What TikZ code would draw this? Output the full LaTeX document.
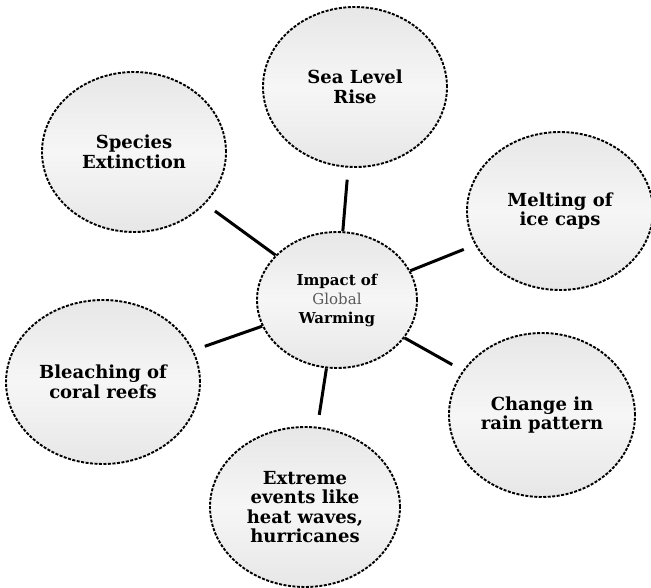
\documentclass[tikz,border=0pt]{standalone}
\usepackage{fontspec}
\setmainfont{DejaVu Serif}
\usetikzlibrary{shapes.geometric}
\begin{document}
\begin{tikzpicture}[x=1pt,y=-1pt,
  bubble/.style={ellipse, draw=black, line width=1.9pt, dash pattern=on 3pt off 1.5pt,
    top color=gray!19, bottom color=gray!19, middle color=gray!7,
    inner sep=0pt, align=center, font=\fontsize{18}{19.5}\selectfont\bfseries},
  conn/.style={line width=3pt, shorten >=12pt}]
\useasboundingbox (0,0) rectangle (651,588);
\node[bubble, minimum width=160pt, minimum height=136pt,
  font=\fontsize{15}{19}\selectfont\bfseries] (imp) at (337,300)
  {Impact of\\{\mdseries\color{black!65}Global}\\Warming};
\node[bubble, minimum width=184pt, minimum height=160pt] (sea) at (355,87) {Sea Level\\Rise};
\node[bubble, minimum width=184pt, minimum height=160pt] (spe) at (134,152) {Species\\Extinction};
\node[bubble, minimum width=186pt, minimum height=158pt] (mel) at (560,211) {Melting of\\ice caps};
\node[bubble, minimum width=194pt, minimum height=164pt] (ble) at (103,382) {Bleaching of\\coral reefs};
\node[bubble, minimum width=190pt, minimum height=160pt] (ext) at (305,507) {Extreme\\events like\\heat waves,\\hurricanes};
\node[bubble, minimum width=186pt, minimum height=164pt] (cha) at (542,415) {Change in\\rain pattern};
\draw[conn] (imp) -- (sea);
\draw[conn] (imp) -- (spe);
\draw[conn] (imp) -- (mel);
\draw[conn] (imp) -- (ble);
\draw[conn] (imp) -- (ext);
\draw[conn] (imp) -- (cha);
\end{tikzpicture}
\end{document}
